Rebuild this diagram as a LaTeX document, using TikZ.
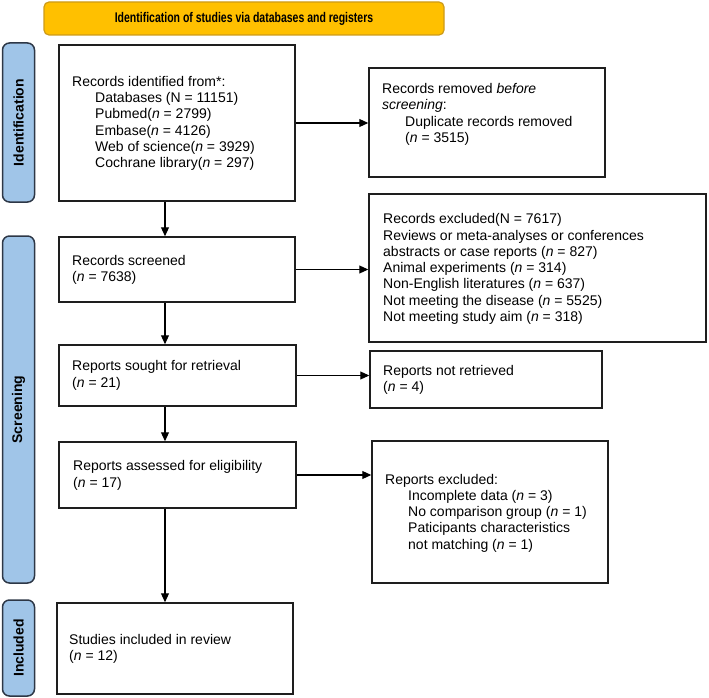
\documentclass[tikz,border=0pt]{standalone}
\usepackage{fontspec}
\setmainfont{Liberation Sans}
\usepackage{graphicx}
\usetikzlibrary{arrows.meta}
\definecolor{barfill}{RGB}{160,197,232}
\definecolor{barline}{RGB}{45,55,70}
\definecolor{bannerfill}{RGB}{255,192,0}
\definecolor{bannerline}{RGB}{205,155,25}
\definecolor{boxline}{RGB}{30,30,30}
\begin{document}
\begin{tikzpicture}[x=1pt,y=-1pt,
 box/.style={draw=boxline,line width=1.5pt,fill=white,inner sep=0pt},
 bar/.style={draw=barline,line width=1.5pt,fill=barfill,rounded corners=7pt,inner sep=0pt,minimum width=32},
 banner/.style={draw=bannerline,line width=1.2pt,fill=bannerfill,rounded corners=5pt,inner sep=0pt,font=\fontsize{14}{16}\selectfont\bfseries},
 txt/.style={anchor=west,align=left,inner sep=0pt,font=\fontsize{14}{16.3}\selectfont},
 barlabel/.style={rotate=90,font=\fontsize{14}{16}\selectfont\bfseries,inner sep=0pt},
 arr/.style={line width=1.1pt,-{Triangle[length=9pt,width=8pt]}}]
\useasboundingbox (0,0) rectangle (709,698);
\newcommand{\ind}{\hspace*{23pt}}
\newcommand{\nn}{\textit{n}}
% banner
\node[banner, minimum width=400, minimum height=33] (ban) at (244,18.5) {\scalebox{0.75}[1]{Identification of studies via databases and registers}};
% side bars
\node[bar, minimum height=159] (barI) at (18.5,122.5) {};
\node[barlabel] (labI) at (barI.center) {Identification};
\node[bar, minimum height=347] (barS) at (18.5,409.5) {};
\node[barlabel] (labS) at (barS.center) {Screening};
\node[bar, minimum height=96] (barC) at (18.5,648) {};
\node[barlabel] (labC) at (barC.center) {Included};
% left boxes
\node[box, minimum width=236, minimum height=156] (b1) at (177,123) {};
\node[txt] (t1) at (72,123.5) {Records identified from*:\\
\ind Databases (N = 11151)\\
\ind Pubmed(\nn{} = 2799)\\
\ind Embase(\nn{} = 4126)\\
\ind Web of science(\nn{} = 3929)\\
\ind Cochrane library(\nn{} = 297)};
\node[box, minimum width=236, minimum height=65] (b2) at (177,269.5) {};
\node[txt] (t2) at (72,270) {Records screened\\(\nn{} = 7638)};
\node[box, minimum width=237, minimum height=61] (b3) at (177.5,375.5) {};
\node[txt] (t3) at (72,375.5) {Reports sought for retrieval\\(\nn{} = 21)};
\node[box, minimum width=237, minimum height=66] (b4) at (177.5,475) {};
\node[txt] (t4) at (73,475.5) {Reports assessed for eligibility\\(\nn{} = 17)};
\node[box, minimum width=236, minimum height=91] (b5) at (175,648.5) {};
\node[txt] (t5) at (69,649) {Studies included in review\\(\nn{} = 12)};
% right boxes
\node[box, minimum width=236, minimum height=109] (r1) at (487,122.5) {};
\node[txt] (u1) at (382,114.5) {Records removed \textit{before}\\
\textit{screening}:\\
\ind Duplicate records removed\\
\ind (\nn{} = 3515)};
\node[box, minimum width=337, minimum height=148] (r2) at (537.5,268) {};
\node[txt] (u2) at (383,269) {Records excluded(N = 7617)\\
Reviews or meta-analyses or conferences\\
abstracts or case reports (\nn{} = 827)\\
Animal experiments (\nn{} = 314)\\
Non-English literatures (\nn{} = 637)\\
Not meeting the disease (\nn{} = 5525)\\
Not meeting study aim (\nn{} = 318)};
\node[box, minimum width=232, minimum height=57] (r3) at (486,379.5) {};
\node[txt] (u3) at (383,380) {Reports not retrieved\\(\nn{} = 4)};
\node[box, minimum width=236, minimum height=142] (r4) at (490,512) {};
\node[txt] (u4) at (385,513) {Reports excluded:\\
\ind Incomplete data (\nn{} = 3)\\
\ind No comparison group (\nn{} = 1)\\
\ind Paticipants characteristics\\
\ind not matching (\nn{} = 1)};
% arrows
\coordinate (vx) at (165,0);
\draw[arr] (b1.south -| vx) -- (b2.north -| vx);
\draw[arr] (b2.south -| vx) -- (b3.north -| vx);
\draw[arr] (b3.south -| vx) -- (b4.north -| vx);
\draw[arr] (b4.south -| vx) -- (b5.north -| vx);
\draw[arr] (b1.east) -- (b1.east -| r1.west);
\draw[arr] (b2.east) -- (b2.east -| r2.west);
\draw[arr] (b3.east) -- (b3.east -| r3.west);
\draw[arr] (b4.east) -- (b4.east -| r4.west);
\end{tikzpicture}
\end{document}
